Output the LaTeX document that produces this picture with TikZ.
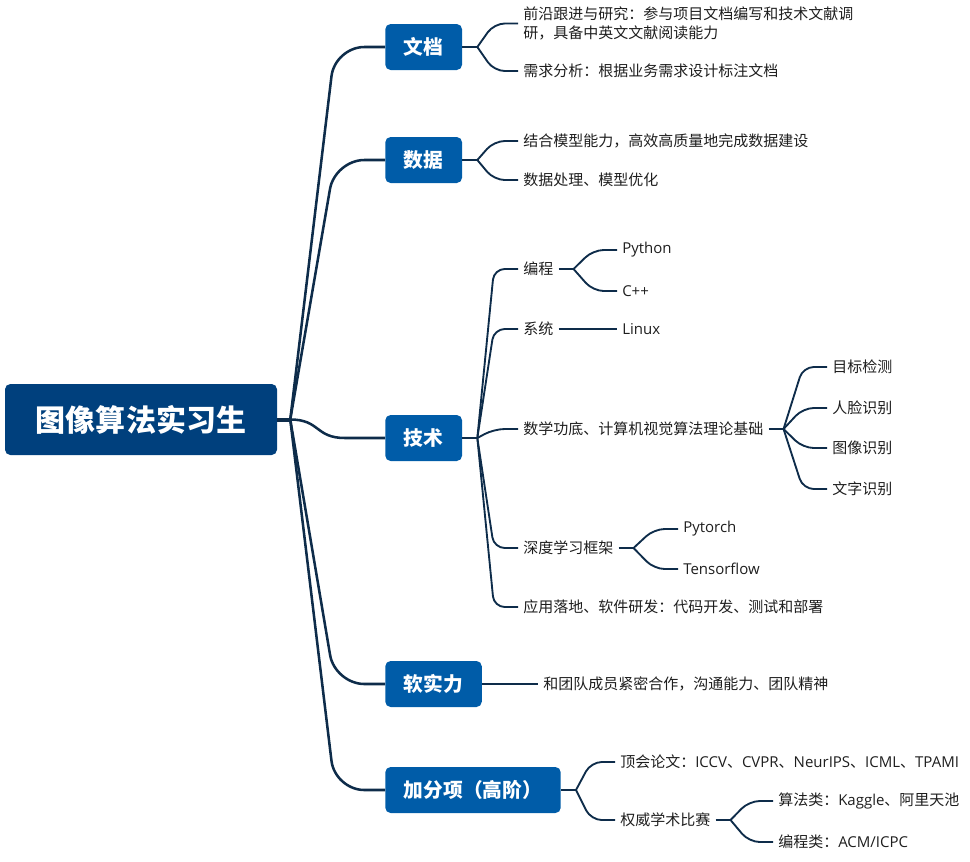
\documentclass[tikz,border=0pt]{standalone}
\usepackage{fontspec}
\setmainfont{Noto Sans CJK SC}
\newfontfamily\en{Open Sans}
\newcommand\lat[1]{{\en #1}}
\usetikzlibrary{calc}

\definecolor{rootblue}{RGB}{0,64,125}
\definecolor{topicblue}{RGB}{0,92,168}
\definecolor{linkcol}{RGB}{14,44,74}
\definecolor{leaftext}{RGB}{30,30,30}

\tikzset{
  rootbox/.style={fill=rootblue, text=white, rounded corners=4pt,
    minimum width=204pt, minimum height=53.25pt,
    font=\fontsize{22.5}{24}\selectfont\bfseries},
  topic/.style={anchor=west, fill=topicblue, text=white, rounded corners=4pt,
    minimum height=34.5pt, inner xsep=14pt,
    font=\fontsize{14.8}{16}\selectfont\bfseries},
  leaf/.style={anchor=west, text=leaftext, inner xsep=3.75pt, inner ysep=1pt,
    font=\fontsize{11.25}{14.25}\selectfont},
  trunk/.style={draw=linkcol, line width=1.9pt, rounded corners=22pt},
  branch/.style={draw=linkcol, line width=1.4pt, rounded corners=8pt}
}

\begin{document}
\begin{tikzpicture}[x=0.75pt, y=-0.75pt]
  \useasboundingbox (0,0) rectangle (970,861);

  % root and topics
  \node[rootbox] (root) at (141,419.5) {图像算法实习生};
  \node[topic] (doc) at (385,47) {文档};
  \node[topic] (data) at (385,160) {数据};
  \node[topic] (tech) at (385,438) {技术};
  \node[topic] (soft) at (385,684) {软实力};
  \node[topic] (bonus) at (385,790) {加分项（高阶）};

  % leaves
  \node[leaf, align=left] (doc1) at (518,23.5)
    {前沿跟进与研究：参与项目文档编写和技术文献调\\研，具备中英文文献阅读能力};
  \node[leaf] (doc2) at (518,71) {需求分析：根据业务需求设计标注文档};
  \node[leaf] (data1) at (518,141) {结合模型能力，高效高质量地完成数据建设};
  \node[leaf] (data2) at (518,180) {数据处理、模型优化};
  \node[leaf] (code) at (518,269) {编程};
  \node[leaf] (py) at (617,250) {\lat{Python}};
  \node[leaf] (cpp) at (617,291) {\lat{C++}};
  \node[leaf] (sys) at (518,329) {系统};
  \node[leaf] (linux) at (617,329) {\lat{Linux}};
  \node[leaf] (math) at (518,429) {数学功底、计算机视觉算法理论基础};
  \node[leaf] (det) at (827,367) {目标检测};
  \node[leaf] (face) at (827,408) {人脸识别};
  \node[leaf] (img) at (827,448) {图像识别};
  \node[leaf] (ocr) at (827,489) {文字识别};
  \node[leaf] (dl) at (518,548) {深度学习框架};
  \node[leaf] (torch) at (678,529) {\lat{Pytorch}};
  \node[leaf] (tf) at (678,569) {\lat{Tensorflow}};
  \node[leaf] (app) at (518,607) {应用落地、软件研发：代码开发、测试和部署};
  \node[leaf] (team) at (538,684) {和团队成员紧密合作，沟通能力、团队精神};
  \node[leaf] (paper) at (615,762)
    {顶会论文：\lat{ICCV}、\lat{CVPR}、\lat{NeurIPS}、\lat{ICML}、\lat{TPAMI}};
  \node[leaf] (comp) at (615,820) {权威学术比赛};
  \node[leaf] (algo) at (773,801) {算法类：\lat{Kaggle}、阿里天池};
  \node[leaf] (prog) at (773,842) {编程类：\lat{ACM/ICPC}};

  % trunk from root
  \coordinate (rj) at ($(root.east)+(13,0)$);
  \draw[linkcol, line width=3pt] (root.east) -- (rj);
  \foreach \t in {doc,data,soft,bonus}
    \draw[trunk] (rj) -- ($(\t.west)+(-50,0)$) -- (\t.west);
  \draw[draw=linkcol, line width=1.9pt] (rj) .. controls ($(rj)+(30,0)$) and ($(tech.west)+(-70,0)$) .. ($(tech.west)+(-40,0)$) -- (tech.west);

  % junctions
  \foreach \n in {doc,data,tech,bonus,code,math,dl,comp}
    \draw[branch] (\n.east) -- ++(15,0) coordinate (\n-j);
  \draw[branch] (sys.east) -- (linux.west);
  \draw[branch] (soft.east) -- (team.west);

  % branches
  \foreach \p/\c in {doc/doc1,doc/doc2,data/data1,data/data2,
      tech/code,tech/sys,tech/math,tech/dl,tech/app,
      code/py,code/cpp,math/det,math/face,math/img,math/ocr,
      dl/torch,dl/tf,bonus/paper,bonus/comp,comp/algo,comp/prog}
    \draw[branch] (\p-j) -- ($(\c.west)+(-24,0)$) -- (\c.west);
\end{tikzpicture}
\end{document}
